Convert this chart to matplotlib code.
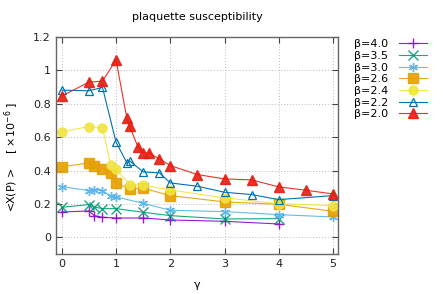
import matplotlib
matplotlib.use('Agg')
import matplotlib.pyplot as plt
from matplotlib.ticker import FormatStrFormatter

# data
g_40 = [0, 0.5, 0.6, 0.75, 1, 1.5, 2, 3, 4]
x_40 = [0.152, 0.158, 0.13, 0.12, 0.116, 0.116, 0.104, 0.096, 0.08]

g_35 = [0, 0.5, 0.6, 0.75, 1, 1.5, 2, 3, 4]
x_35 = [0.18, 0.196, 0.182, 0.172, 0.172, 0.15, 0.13, 0.11, 0.112]

g_30 = [0, 0.5, 0.6, 0.75, 0.9, 1, 1.5, 2, 3, 4, 5]
x_30 = [0.304, 0.28, 0.284, 0.28, 0.246, 0.242, 0.204, 0.162, 0.154, 0.136, 0.122]

g_26 = [0, 0.5, 0.6, 0.75, 0.9, 1, 1.25, 1.5, 2, 3, 4, 5]
x_26 = [0.422, 0.446, 0.43, 0.412, 0.388, 0.324, 0.292, 0.294, 0.25, 0.212, 0.198, 0.156]

g_24 = [0, 0.5, 0.75, 0.9, 1, 1.25, 1.5, 2, 3, 4, 5]
x_24 = [0.632, 0.664, 0.656, 0.436, 0.41, 0.316, 0.312, 0.284, 0.236, 0.202, 0.19]

g_22 = [0, 0.5, 0.75, 1, 1.2, 1.25, 1.5, 1.8, 2, 2.5, 3, 3.5, 4, 5]
x_22 = [0.882, 0.878, 0.898, 0.57, 0.446, 0.458, 0.392, 0.386, 0.326, 0.306, 0.27, 0.256, 0.226, 0.25]

g_20 = [0, 0.5, 0.75, 1, 1.2, 1.25, 1.4, 1.5, 1.6, 1.8, 2, 2.5, 3, 3.5, 4, 4.5, 5]
x_20 = [0.846, 0.93, 0.936, 1.062, 0.712, 0.666, 0.544, 0.506, 0.506, 0.47, 0.43,
        0.376, 0.35, 0.344, 0.302, 0.282, 0.26]

series = [
    ('β=4.0', g_40, x_40, '#9400D3', '+', 'full'),
    ('β=3.5', g_35, x_35, '#009E73', 'x', 'full'),
    ('β=3.0', g_30, x_30, '#56B4E9', (6, 2, 0), 'full'),
    ('β=2.6', g_26, x_26, '#E69F00', 's', 'full'),
    ('β=2.4', g_24, x_24, '#F0E442', 'o', 'full'),
    ('β=2.2', g_22, x_22, '#0072B2', '^', 'none'),
    ('β=2.0', g_20, x_20, '#E51E10', '^', 'full'),
]

plt.rcParams['font.family'] = 'DejaVu Sans'
plt.rcParams['mathtext.fontset'] = 'dejavusans'

fig = plt.figure(figsize=(4.43, 2.94), dpi=100)
ax = fig.add_axes([0.126, 0.136, 0.637, 0.738])

for label, g, x, c, m, fill in series:
    if fill == 'none':
        ax.plot(g, x, color=c, lw=0.8, marker=m, ms=6, mfc='none', mec=c, mew=0.9, label=label)
    else:
        ax.plot(g, x, color=c, lw=0.8, marker=m, ms=6.5, mew=1.0, label=label, alpha=0.9)

ax.set_xlim(-0.11, 5.09)
ax.set_ylim(-0.1, 1.2)
ax.set_xticks([0, 1, 2, 3, 4, 5])
ax.set_yticks([0, 0.2, 0.4, 0.6, 0.8, 1.0, 1.2])
ax.yaxis.set_major_formatter(FormatStrFormatter('%g'))
ax.tick_params(direction='in', top=True, right=True, labelsize=8, length=4, width=0.8, colors='#444444')
ax.tick_params(labelcolor='#222222')
ax.grid(True, linestyle=(0, (1, 2)), color='#bbbbbb', lw=0.7)
for s in ax.spines.values():
    s.set_color('#666666')
    s.set_linewidth(1.0)

ax.set_title('plaquette susceptibility', fontsize=8, pad=12)
ax.set_xlabel('γ', fontsize=8, labelpad=8)
ax.set_ylabel(r'<X(P) >    [ ×10$^{-6}$ ]', fontsize=8)
ax.yaxis.set_label_coords(-0.122, 0.45)

ax.legend(loc='upper left', bbox_to_anchor=(1.04, 1.01), frameon=False, fontsize=8,
          markerfirst=False, handlelength=2.5, handletextpad=1.0, labelspacing=0.15,
          borderaxespad=0.0)

fig.savefig('out.png', dpi=100)
